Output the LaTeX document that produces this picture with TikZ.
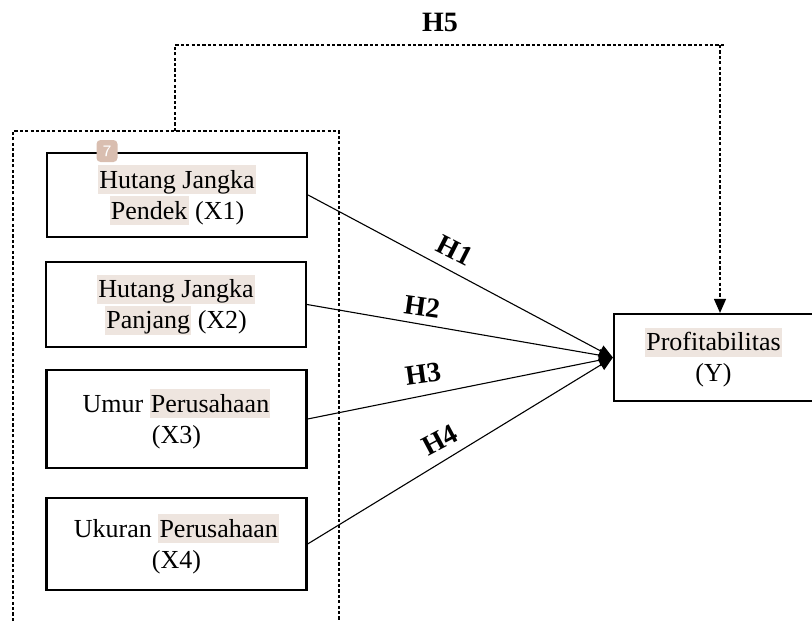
\documentclass[tikz,border=0pt]{standalone}
\usepackage{fontspec}
\setmainfont{Liberation Serif}
\usetikzlibrary{arrows.meta,calc}
\definecolor{hlc}{HTML}{EEE5DF}
\definecolor{badgec}{HTML}{D9BEB0}
\newcommand\hlt[1]{{\setlength{\fboxsep}{0pt}\colorbox{hlc}{\kern0.6pt\rule[-3pt]{0pt}{14.5pt}#1\kern0.6pt}}}
\tikzset{
  varbox/.style={draw, line width=1.1pt, minimum width=130pt, align=center, inner sep=0pt,
    font=\fontsize{13}{15.5}\selectfont},
  hyp/.style={font=\fontsize{14}{16}\selectfont\bfseries, inner sep=0.5pt},
  link/.style={line width=0.55pt, -{Triangle[length=7pt,width=6pt]}},
  dashline/.style={line width=0.6pt, dash pattern=on 1.6pt off 1.1pt}
}
\begin{document}
\begin{tikzpicture}[x=0.5pt,y=-0.5pt]
\useasboundingbox (0,0) rectangle (812,621);
% dashed group box (open at bottom)
\draw[dashline] (13,621) -- (13,131) -- (339,131) -- (339,621);
% independent variables
\node[varbox, minimum height=42pt] (x1) at (177,195) {\hlt{Hutang Jangka}\\\hlt{Pendek} (X1)};
\node[varbox, minimum height=42.5pt] (x2) at (176,304.5) {\hlt{Hutang Jangka}\\\hlt{Panjang} (X2)};
\node[varbox, minimum height=49pt] (x3) at (176.5,419) {Umur \hlt{Perusahaan}\\(X3)};
\node[varbox, minimum height=46pt] (x4) at (176.5,544) {Ukuran \hlt{Perusahaan}\\(X4)};
% badge
\node[fill=badgec, rounded corners=2pt, minimum width=10.5pt, minimum height=11pt, inner sep=0pt,
  text=white, font=\sffamily\fontsize{8}{8}\selectfont] (badge) at (107,151) {7};
% dependent variable
\node[varbox, minimum width=99.5pt, minimum height=43.5pt] (y) at (713.5,357.5) {\hlt{Profitabilitas}\\(Y)};
% hypotheses arrows
\coordinate (tip) at (y.west);
\draw[link] (x1.east) -- (tip);
\draw[link] (x2.east) -- (tip);
\draw[link] (x3.east) -- (tip);
\draw[link] (x4.east) -- (tip);
\node[hyp, rotate=-27] (h1) at (455,250) {H1};
\node[hyp, rotate=-8] (h2) at (422,307) {H2};
\node[hyp, rotate=8] (h3) at (423,374) {H3};
\node[hyp, rotate=28] (h4) at (440,440) {H4};
% H5
\coordinate (g) at (175,131);
\coordinate (gt) at (175,45);
\coordinate (rt) at (726,45);
\coordinate (yt) at (720,45);
\draw[dashline] (g) -- (gt) -- (rt);
\draw[dashline, -{Triangle[length=7pt,width=6pt]}] (yt) -- (yt |- y.north);
\node[hyp] (h5) at (440,22) {H5};
\end{tikzpicture}
\end{document}
